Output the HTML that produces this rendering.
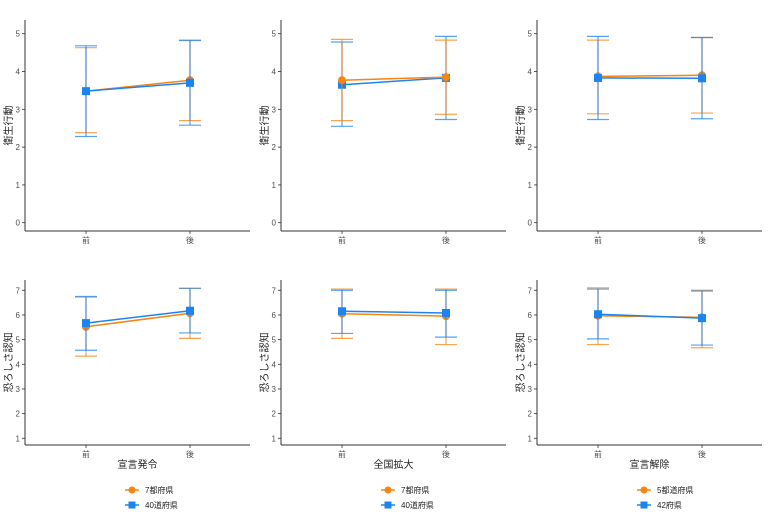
<!DOCTYPE html>
<html><head><meta charset="utf-8"><style>
body{margin:0;background:#fff}
svg text{font-family:"Liberation Sans","Noto Sans CJK JP",sans-serif}
</style></head><body>
<svg id="s" width="768" height="521" xmlns="http://www.w3.org/2000/svg"></svg>
<script>
const O="#f7850f",B="#1c84f0";
const panels=[
 {col:0,row:0,ob:[[3.48,2.38,4.63],[3.77,2.70,4.83]],bl:[[3.48,2.28,4.68],[3.70,2.58,4.82]],orangeTop:false},
 {col:1,row:0,ob:[[3.77,2.70,4.85],[3.85,2.87,4.83]],bl:[[3.65,2.55,4.78],[3.83,2.73,4.93]],orangeTop:true},
 {col:2,row:0,ob:[[3.87,2.88,4.83],[3.90,2.90,4.90]],bl:[[3.83,2.73,4.93],[3.82,2.75,4.90]],orangeTop:false},
 {col:0,row:1,ob:[[5.52,4.33,6.72],[6.07,5.05,7.08]],bl:[[5.67,4.57,6.75],[6.17,5.27,7.08]],orangeTop:false},
 {col:1,row:1,ob:[[6.05,5.05,7.05],[5.95,4.80,7.05]],bl:[[6.15,5.25,7.00],[6.08,5.10,7.00]],orangeTop:false},
 {col:2,row:1,ob:[[5.97,4.80,7.10],[5.90,4.67,7.00]],bl:[[6.03,5.03,7.05],[5.87,4.78,6.97]],orangeTop:false}
];
const xl=["宣言発令","全国拡大","宣言解除"];
const leg=[["7都府県","40道府県"],["7都府県","40道府県"],["5都道府県","42府県"]];
let h="";
for(const p of panels){
 const dx=p.col*256;
 const L=25+dx,R=250+dx,x0=86+dx,x1=190+dx;
 let top,bot,Y,ticks;
 if(p.row==0){top=20;bot=231;Y=v=>222.7-v*37.8;ticks=[0,1,2,3,4,5];}
 else{top=280;bot=445;Y=v=>438.3-(v-1)*24.67;ticks=[1,2,3,4,5,6,7];}
 for(const t of ticks){const y=Y(t);h+=`<line x1="${L-3}" x2="${L}" y1="${y}" y2="${y}" stroke="#333" stroke-width="0.8"/><text x="${L-5}" y="${y+3}" font-size="8" fill="#4d4d4d" text-anchor="end">${t}</text>`;}
 h+=`<line x1="${L}" x2="${L}" y1="${top}" y2="${bot}" stroke="#333" stroke-width="1"/><line x1="${L}" x2="${R}" y1="${bot}" y2="${bot}" stroke="#333" stroke-width="1"/>`;
 for(const [x,lab] of [[x0,"前"],[x1,"後"]]){h+=`<line x1="${x}" x2="${x}" y1="${bot}" y2="${bot+3}" stroke="#333" stroke-width="0.8"/><text x="${x}" y="${bot+12}" font-size="8" fill="#4d4d4d" text-anchor="middle">${lab}</text>`;}
 const yc=(top+bot)/2;
 h+=`<text transform="translate(${12+dx},${yc}) rotate(-90)" font-size="10" fill="#222" text-anchor="middle">${p.row==0?"衛生行動":"恐ろしさ認知"}</text>`;
 if(p.row==1){h+=`<text x="${(L+R)/2}" y="468" font-size="10" fill="#222" text-anchor="middle">${xl[p.col]}</text>`;}
 const drawO=()=>{let s="";const d=p.ob;[x0,x1].forEach((x,i)=>{s+=`<g stroke="${O}" stroke-opacity="0.75" stroke-width="1.2"><line x1="${x}" x2="${x}" y1="${Y(d[i][1])}" y2="${Y(d[i][2])}"/><line x1="${x-11}" x2="${x+11}" y1="${Y(d[i][1])}" y2="${Y(d[i][1])}"/><line x1="${x-11}" x2="${x+11}" y1="${Y(d[i][2])}" y2="${Y(d[i][2])}"/></g>`;});
  s+=`<line x1="${x0}" y1="${Y(d[0][0])}" x2="${x1}" y2="${Y(d[1][0])}" stroke="${O}" stroke-width="1.5"/>`;
  [x0,x1].forEach((x,i)=>{s+=`<circle cx="${x}" cy="${Y(d[i][0])}" r="4" fill="${O}"/>`;});return s;};
 const drawB=()=>{let s="";const d=p.bl;[x0,x1].forEach((x,i)=>{s+=`<g stroke="${B}" stroke-opacity="0.75" stroke-width="1.2"><line x1="${x}" x2="${x}" y1="${Y(d[i][1])}" y2="${Y(d[i][2])}"/><line x1="${x-11}" x2="${x+11}" y1="${Y(d[i][1])}" y2="${Y(d[i][1])}"/><line x1="${x-11}" x2="${x+11}" y1="${Y(d[i][2])}" y2="${Y(d[i][2])}"/></g>`;});
  s+=`<line x1="${x0}" y1="${Y(d[0][0])}" x2="${x1}" y2="${Y(d[1][0])}" stroke="${B}" stroke-width="1.5"/>`;
  [x0,x1].forEach((x,i)=>{s+=`<rect x="${x-4}" y="${Y(d[i][0])-4}" width="8" height="8" fill="${B}"/>`;});return s;};
 h+=p.orangeTop?drawB()+drawO():drawO()+drawB();
 if(p.row==1){
  const lx=125+dx;
  h+=`<line x1="${lx}" x2="${lx+14}" y1="490" y2="490" stroke="${O}" stroke-width="1.5"/><circle cx="${lx+7}" cy="490" r="3.5" fill="${O}"/><text x="${lx+20}" y="493" font-size="8" fill="#222">${leg[p.col][0]}</text>`;
  h+=`<line x1="${lx}" x2="${lx+14}" y1="505" y2="505" stroke="${B}" stroke-width="1.5"/><rect x="${lx+3.5}" y="501.5" width="7" height="7" fill="${B}"/><text x="${lx+20}" y="508" font-size="8" fill="#222">${leg[p.col][1]}</text>`;
 }
}
document.getElementById("s").innerHTML=h;
</script>
</body></html>
